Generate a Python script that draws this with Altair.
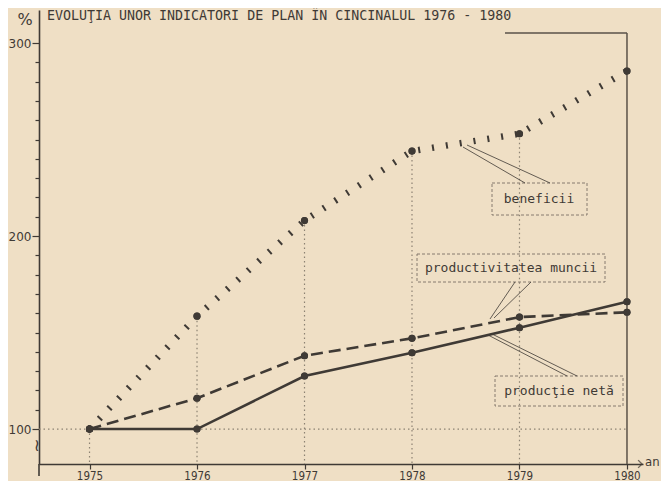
import altair as alt
import pandas as pd

# ---- data ----
years = [1975, 1976, 1977, 1978, 1979, 1980]
beneficii = [100, 158.5, 208, 244, 253, 285.5]
productivitatea = [100, 116, 138, 147, 158, 160.5]
productie_neta = [100, 100, 127.5, 139.5, 152.5, 166]
series_names = ["beneficii", "productivitatea muncii", "producţie netă"]
y_tick_values = list(range(100, 301, 10))
title_text = "EVOLUŢIA UNOR INDICATORI DE PLAN ÎN CINCINALUL 1976 - 1980"

df = pd.DataFrame({
    "an": years * 3,
    "valoare": beneficii + productivitatea + productie_neta,
    "serie": [series_names[0]] * 6 + [series_names[1]] * 6 + [series_names[2]] * 6,
})

INK = "#3f3a35"
GRID = "#8c8273"
BG = "#efdfc5"
MONO = "DejaVu Sans Mono"
NARROW = "DejaVu Sans Condensed, Liberation Sans Narrow, DejaVu Sans"

W, H = 604, 454
xs = alt.Scale(domain=[1974.53, 1980.149], nice=False, zero=False)
ys = alt.Scale(domain=[81.9, 317.1], nice=False, zero=False)

x_axis = alt.Axis(values=years, format="d", title=None, grid=False, tickSize=5,
                  tickColor=INK, tickWidth=1.2, domainColor=INK, domainWidth=1.5,
                  labelFont=NARROW, labelFontSize=11.5, labelColor=INK, labelPadding=1)
y_axis = alt.Axis(values=y_tick_values, format="d", title=None, grid=False,
                  labelExpr="datum.value % 100 == 0 ? datum.label : ''",
                  tickSize={"condition": {"test": "datum.value % 100 == 0", "value": 7}, "value": 4},
                  tickColor=INK, tickWidth=1.2, domainColor=INK, domainWidth=1.6,
                  labelFont="DejaVu Sans", labelFontSize=12, labelColor=INK, labelPadding=1)

X = alt.X("an:Q", scale=xs, axis=x_axis)
Y = alt.Y("valoare:Q", scale=ys, axis=y_axis)

one = alt.Data(values=[{}])
DY = 2  # annotation offset (plot top sits at page y 10)


def seg(x1, y1, x2, y2, color=INK, width=0.8):
    return alt.Chart(one).mark_rule(color=color, strokeWidth=width).encode(
        x=alt.value(x1), y=alt.value(y1 + DY), x2=alt.value(x2), y2=alt.value(y2 + DY))


def box(x1, y1, x2, y2):
    return alt.Chart(one).mark_rect(fill=None, stroke="#7a7064", strokeWidth=0.9,
                                    strokeDash=[3, 2]).encode(
        x=alt.value(x1), y=alt.value(y1 + DY), x2=alt.value(x2), y2=alt.value(y2 + DY))


def label(txt, x, y, size=13, font=MONO, align="center", angle=0):
    return alt.Chart(one).mark_text(text=txt, font=font, fontSize=size, color=INK,
                                    align=align, baseline="middle", angle=angle).encode(
        x=alt.value(x), y=alt.value(y + DY))


base = alt.Chart(df)

# vertical dotted guides from beneficii points to the axis
grid_v = base.transform_filter(
    (alt.datum.serie == series_names[0]) & (alt.datum.an < 1980)
).mark_rule(color=GRID, strokeWidth=1.2, strokeDash=[1.5, 3]).encode(
    x=X, y=Y, y2=alt.value(H))

# horizontal dotted line at 100, right frame, top frame
grid_h = base.transform_filter(
    (alt.datum.serie == series_names[0]) & (alt.datum.an == 1975)
).mark_rule(color=GRID, strokeWidth=1.2, strokeDash=[1.5, 3]).encode(
    y=Y, x=alt.value(0), x2=alt.value(588))
frame_r = base.transform_filter(
    (alt.datum.serie == series_names[0]) & (alt.datum.an == 1980)
).mark_rule(color="#5a5248", strokeWidth=1.5).encode(
    x=X, y=alt.value(21 + DY), y2=alt.value(H))
frame_t = seg(466, 21, 588, 21, color="#5a5248", width=1.3)

line_b = base.transform_filter(alt.datum.serie == series_names[0]).mark_line(
    color=INK, strokeWidth=6.5, strokeDash=[2, 12], strokeCap="butt").encode(x=X, y=Y)
line_p = base.transform_filter(alt.datum.serie == series_names[1]).mark_line(
    color=INK, strokeWidth=2.6, strokeDash=[12, 6]).encode(x=X, y=Y)
line_n = base.transform_filter(alt.datum.serie == series_names[2]).mark_line(
    color=INK, strokeWidth=2.6).encode(x=X, y=Y)
pts = base.mark_circle(color=INK, size=50, opacity=1).encode(x=X, y=Y)

# annotations
title = label(title_text, 8, 4, size=13.3, font=MONO, align="left")
pct = label("%", -14, 8, size=16, font="DejaVu Sans")
an = label("an", 606, H - 2 - DY, size=13, font=NARROW, align="left")
arrow = alt.Chart(one).mark_point(shape="M-1,-1L0,0L-1,1", filled=False, color=INK,
                                  strokeWidth=1.4, size=60).encode(
    x=alt.value(W - 1), y=alt.value(H))
brk = label("≀", -2, 434, size=17, font="DejaVu Sans")
y_ext = alt.Chart(one).mark_rule(color=INK, strokeWidth=1.6).encode(
    x=alt.value(0), y=alt.value(H), y2=alt.value(H + 12))

lab_b = label(series_names[0], 500, 187)
lab_p = label(series_names[1], 472, 256)
lab_n = label(series_names[2], 520, 379)
box_b = box(453, 171, 548, 203)
box_p = box(378, 242, 566, 270)
box_n = box(456, 364, 584, 394)
leaders = [
    seg(424, 135, 486, 171), seg(428, 133, 511, 171),
    seg(476, 270, 451, 307), seg(492, 270, 455, 306),
    seg(449, 323, 528, 364), seg(453, 322, 538, 364),
]

chart = alt.layer(
    pts, grid_v, grid_h, frame_r, frame_t,
    box_b, box_p, box_n, *leaders,
    line_b, line_p, line_n, pts,
    title, pct, an, arrow, brk, y_ext,
    lab_b, lab_p, lab_n,
).properties(
    width=W, height=H,
    autosize=alt.AutoSizeParams(type="none"),
    padding={"left": 31, "top": 2, "right": 18, "bottom": 17},
    background=BG,
).configure_view(stroke=None)

chart.save("out.html", embed_options={"renderer": "svg", "actions": False})
